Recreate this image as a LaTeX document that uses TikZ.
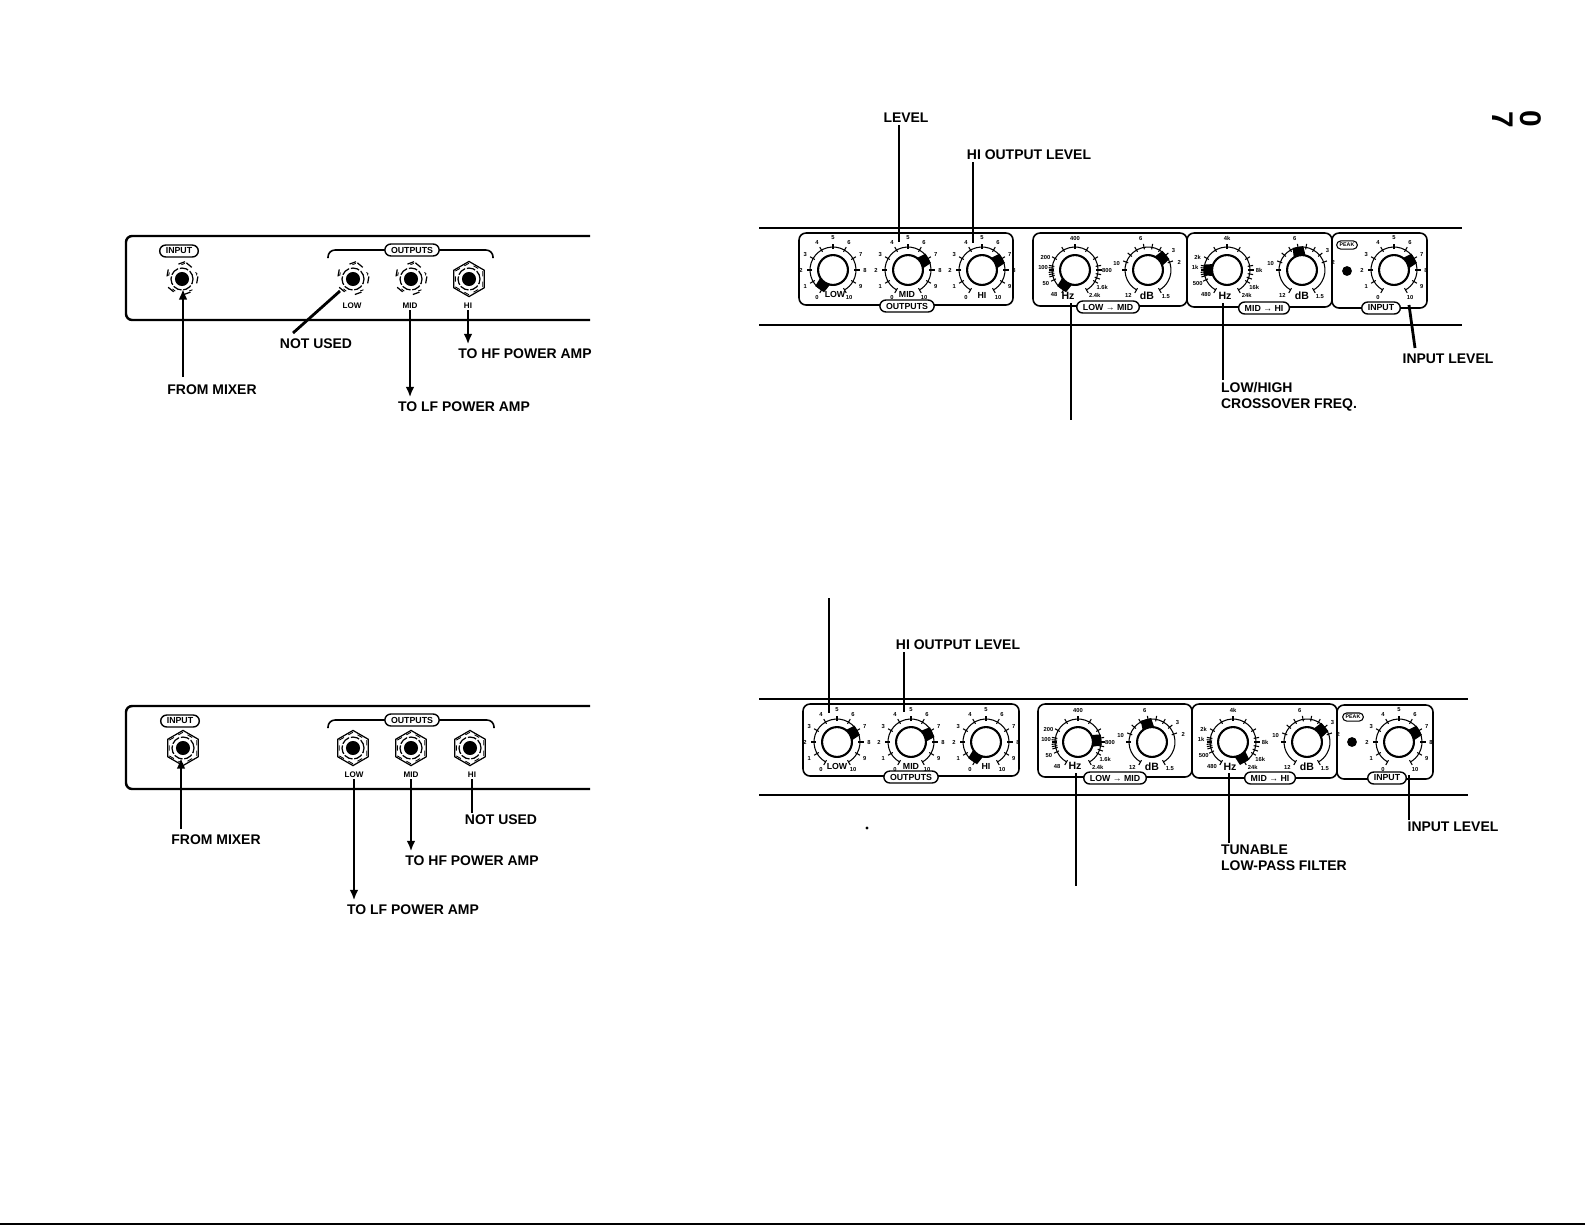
\documentclass[tikz,border=0pt]{standalone}
\usepackage{fontspec}
\setmainfont{Liberation Sans}
\usetikzlibrary{positioning, arrows.meta, shapes.geometric, shapes.misc}
\tikzset{
  rail/.style={line width=1.4pt},
  boxline/.style={line width=0.9pt, rounded corners=4pt},
  signal/.style={line width=1.6pt, -{Latex[length=6pt,width=5pt]}, shorten >=1.5pt},
  leader/.style={line width=1.6pt},
  caption/.style={font=\bfseries\fontsize{7.95}{9.1}\selectfont, inner sep=1pt, align=left},
  pill/.style={rounded rectangle, draw, fill=white, line width=0.8pt, inner xsep=3pt, inner ysep=0pt,
    minimum height=6.8pt, font=\bfseries\fontsize{5}{5}\selectfont},
  smallpill/.style={rounded rectangle, draw, line width=0.6pt, inner xsep=1.5pt, inner ysep=0pt,
    minimum height=4.6pt, font=\bfseries\fontsize{3}{3}\selectfont},
  jacklabel/.style={font=\bfseries\fontsize{4.6}{5}\selectfont, inner sep=0.5pt},
  knoblabel/.style={font=\bfseries\fontsize{5}{5}\selectfont, inner sep=0.5pt},
  unitlabel/.style={font=\bfseries\fontsize{6}{6}\selectfont, inner sep=0.5pt},
  scalemark/.style={font=\bfseries\fontsize{3.3}{3.3}\selectfont, inner sep=0pt},
  knobcap/.style={circle, draw, fill=white, line width=1.2pt, minimum size=17pt, inner sep=0pt},
  jackhole/.style={circle, fill=black, minimum size=8pt, inner sep=0pt},
  jackring/.style={circle, draw, line width=0.7pt, dash pattern=on 5pt off 1pt, minimum size=12.5pt, inner sep=0pt},
  hexfull/.style={regular polygon, regular polygon sides=6, regular polygon rotate=30, draw, line width=0.7pt, minimum size=20pt, inner sep=0pt},
  hexbroken/.style={hexfull, regular polygon rotate=20, dash pattern=on 4pt off 7pt},
  hexinner/.style={regular polygon, regular polygon sides=6, regular polygon rotate=30, draw, line width=0.5pt, dash pattern=on 3pt off 3pt, minimum size=18pt, inner sep=0pt},
  hexinnerbroken/.style={hexinner, regular polygon rotate=20, dash pattern=on 2pt off 9pt},
  led/.style={circle, fill=black, minimum size=5.6pt, inner sep=0pt},
}
% scale lists: angle/text
\def\lvlscale{240/0,210/1,180/2,150/3,120/4,90/5,60/6,30/7,0/8,-30/9,-60/10}
\def\lvlticks{240,210,...,-60}
\def\hzlowscale{229/48,204/50,176/100,157/200,90/400,0/800,-32/1.6k,-52/2.4k}
\def\hzhighscale{229/480,204/500,176/1k,157/2k,90/4k,0/8k,-32/16k,-52/24k}
\def\hzticks{240,205,195,190,185,180,175,170,150,120,90,60,30,10,0,-10,-20,-30,-60}
\def\dbscale{232/12,168/10,103/6,37/3,13/2,-56/1.5}
\def\dbticks{240,180,160,140,120,100,80,60,40,20,-60}
% name, position, pointer angle, scale, ticks
\newcommand{\knob}[5]{%
  \begin{scope}[shift={(#2)}, y=0.02cm]
    \draw[line width=0.6pt] (240:23) arc[start angle=240, end angle=-60, radius=23];
    \foreach \a in #5 { \draw[line width=0.6pt] (\a:21) -- (\a:26.5); }
    \foreach \a/\t in #4 { \node[scalemark] at (\a:32) {\t}; }
    \fill (#3-28:13) -- (#3-13:24) -- (#3+13:24) -- (#3+28:13) -- cycle;
    \node[knobcap] (#1) at (0,0) {};
  \end{scope}
}
\newcommand{\jack}[4]{%
  \node[#3] (#1hex) at (#2) {};
  \node[#4] (#1nut) at (#2) {};
  \node[jackring] (#1ring) at (#2) {};
  \node[jackhole] (#1) at (#2) {};
}
\begin{document}
\begin{tikzpicture}[x=0.02cm, y=-0.02cm]
  \useasboundingbox (0,0) rectangle (1585,1225);
  \coordinate (edgeL) at (0,1224);
  \coordinate (edgeR) at (1585,1224);
  \draw[line width=1.3pt] (edgeL) -- (edgeR);
  \node[rotate=-90, font=\bfseries\fontsize{17}{17}\selectfont, inner sep=0pt] (pageA) at (1503,120) {7};
  \node[rotate=-90, font=\bfseries\fontsize{17}{17}\selectfont, inner sep=0pt] (pageB) at (1531,119) {0};

  % upper left panel
  \begin{scope}
    \draw[rail, rounded corners=3.5pt] (590,236) -- (126,236) -- (126,320) -- (590,320);
    \draw[line width=0.9pt, rounded corners=4pt] (328,258) -- (328,250) -- (493,250) -- (493,258);
    \node[pill] (inpillA) at (179,251) {INPUT};
    \node[pill] (outpillA) at (412,250) {OUTPUTS};
    \jack{injackA}{182,279}{hexbroken}{hexinnerbroken}
    \jack{lowjackA}{353,279}{hexbroken}{hexinnerbroken}
    \jack{midjackA}{411,279}{hexbroken}{hexinnerbroken}
    \jack{hijackA}{469,279}{hexfull}{hexinner}
    \node[jacklabel] (lowlblA) at (352,306) {LOW};
    \node[jacklabel] (midlblA) at (410,306) {MID};
    \node[jacklabel] (hilblA) at (468,306) {HI};
    \node[caption] (mixerA) at (212,390) {FROM MIXER};
    \node[caption] (unusedA) at (316,344) {NOT USED};
    \node[caption] (lfA) at (464,407) {TO LF POWER AMP};
    \node[caption] (hfA) at (525,354) {TO HF POWER AMP};
    \coordinate (unusedendA) at (293,333);
    \coordinate (lowtipA) at (340,291);
    \coordinate (mixerstartA) at (183,377);
    \draw[signal] (mixerstartA) -- (mixerstartA |- injackA.south);
    \draw[leader] (unusedendA) -- (lowtipA);
    \draw[signal] (midlblA.south) -- (midlblA.south |- lfA.north);
    \draw[signal] (hilblA.south) -- (hilblA.south |- hfA.north);
  \end{scope}

  % lower left panel
  \begin{scope}
    \draw[rail, rounded corners=3.5pt] (590,706) -- (126,706) -- (126,789) -- (590,789);
    \draw[line width=0.9pt, rounded corners=4pt] (328,728) -- (328,720) -- (494,720) -- (494,728);
    \node[pill] (inpillD) at (180,721) {INPUT};
    \node[pill] (outpillD) at (412,720) {OUTPUTS};
    \jack{injackD}{183,748}{hexfull}{hexinner}
    \jack{lowjackD}{353,748}{hexfull}{hexinner}
    \jack{midjackD}{411,748}{hexfull}{hexinner}
    \jack{hijackD}{470,748}{hexfull}{hexinner}
    \node[jacklabel] (lowlblD) at (354,775) {LOW};
    \node[jacklabel] (midlblD) at (411,775) {MID};
    \node[jacklabel] (hilblD) at (472,775) {HI};
    \node[caption] (mixerD) at (216,840) {FROM MIXER};
    \node[caption] (unusedD) at (501,820) {NOT USED};
    \node[caption] (lfD) at (413,910) {TO LF POWER AMP};
    \node[caption] (hfD) at (472,861) {TO HF POWER AMP};
    \coordinate (mixerstartD) at (181,829);
    \draw[signal] (mixerstartD) -- (mixerstartD |- injackD.south);
    \draw[signal] (lowlblD.south) -- (lowlblD.south |- lfD.north);
    \draw[signal] (midlblD.south) -- (midlblD.south |- hfD.north);
    \draw[leader] (hilblD.south) -- (hilblD.south |- unusedD.north);
  \end{scope}

  % upper right panel
  \begin{scope}
    \coordinate (railBa) at (759,228);
    \coordinate (railBb) at (1462,228);
    \coordinate (railBc) at (759,325);
    \coordinate (railBd) at (1462,325);
    \draw[rail] (railBa) -- (railBb);
    \draw[rail] (railBc) -- (railBd);
    \draw[boxline] (799,233) rectangle (1013,305);
    \draw[boxline] (1033,233) rectangle (1187,306);
    \draw[boxline] (1187,233) rectangle (1332,307);
    \draw[boxline] (1332,233) rectangle (1427,308);
    \knob{lowknobB}{833,270}{235}{\lvlscale}{\lvlticks}
    \knob{midknobB}{908,270}{30}{\lvlscale}{\lvlticks}
    \knob{hiknobB}{982,270}{30}{\lvlscale}{\lvlticks}
    \knob{hzlowB}{1075,270}{235}{\hzlowscale}{\hzticks}
    \knob{dblowB}{1148,270}{40}{\dbscale}{\dbticks}
    \knob{hzhighB}{1227,270}{180}{\hzhighscale}{\hzticks}
    \knob{dbhighB}{1302,270}{100}{\dbscale}{\dbticks}
    \knob{inknobB}{1394,270}{30}{\lvlscale}{\lvlticks}
    \node[knoblabel] (lowtxtB) at (835,294) {LOW};
    \node[knoblabel] (midtxtB) at (907,294) {MID};
    \node[knoblabel] (hitxtB) at (982,295) {HI};
    \node[unitlabel] (hzaB) at (1068,296) {Hz};
    \node[unitlabel] (dbaB) at (1147,296) {dB};
    \node[unitlabel] (hzbB) at (1225,296) {Hz};
    \node[unitlabel] (dbbB) at (1302,296) {dB};
    \node[pill] (outpillB) at (907,306) {OUTPUTS};
    \node[pill] (lowmidB) at (1108,307) {LOW → MID};
    \node[pill] (midhiB) at (1264,308) {MID → HI};
    \node[pill] (inpillB) at (1381,308) {INPUT};
    \node[smallpill] (peakB) at (1347,245) {PEAK};
    \node[led] (ledB) at (1347,271) {};
    \node[caption] (levelB) at (906,118) {LEVEL};
    \node[caption] (hilevelB) at (1029,155) {HI OUTPUT LEVEL};
    \node[caption, anchor=north west] (freqB) at (1219,380) {LOW/HIGH\\CROSSOVER FREQ.};
    \node[caption] (inlevelB) at (1448,359) {INPUT LEVEL};
    \coordinate (levelendB) at (899,242);
    \coordinate (hilevelendB) at (973,243);
    \coordinate (lowmidtopB) at (1071,303);
    \coordinate (lowmidendB) at (1071,420);
    \coordinate (freqtopB) at (1223,303);
    \coordinate (intopB) at (1409,305);
    \coordinate (inendB) at (1415,348);
    \draw[leader] (levelB.south -| levelendB) -- (levelendB);
    \draw[leader] (hilevelB.south -| hilevelendB) -- (hilevelendB);
    \draw[leader] (lowmidtopB) -- (lowmidendB);
    \draw[leader] (freqtopB) -- (freqtopB |- freqB.north);
    \draw[leader] (intopB) -- (inendB);
  \end{scope}

  % lower right panel
  \begin{scope}
    \coordinate (railCa) at (759,699);
    \coordinate (railCb) at (1468,699);
    \coordinate (railCc) at (759,795);
    \coordinate (railCd) at (1468,795);
    \draw[rail] (railCa) -- (railCb);
    \draw[rail] (railCc) -- (railCd);
    \draw[boxline] (803,704) rectangle (1019,776);
    \draw[boxline] (1038,704) rectangle (1192,777);
    \draw[boxline] (1192,704) rectangle (1337,778);
    \draw[boxline] (1337,705) rectangle (1433,779);
    \knob{lowknobC}{837,742}{30}{\lvlscale}{\lvlticks}
    \knob{midknobC}{911,742}{25}{\lvlscale}{\lvlticks}
    \knob{hiknobC}{986,742}{235}{\lvlscale}{\lvlticks}
    \knob{hzlowC}{1078,742}{5}{\hzlowscale}{\hzticks}
    \knob{dblowC}{1152,742}{105}{\dbscale}{\dbticks}
    \knob{hzhighC}{1233,742}{300}{\hzhighscale}{\hzticks}
    \knob{dbhighC}{1307,742}{40}{\dbscale}{\dbticks}
    \knob{inknobC}{1399,742}{30}{\lvlscale}{\lvlticks}
    \node[knoblabel] (lowtxtC) at (837,766) {LOW};
    \node[knoblabel] (midtxtC) at (911,766) {MID};
    \node[knoblabel] (hitxtC) at (986,766) {HI};
    \node[unitlabel] (hzaC) at (1075,766) {Hz};
    \node[unitlabel] (dbaC) at (1152,767) {dB};
    \node[unitlabel] (hzbC) at (1230,767) {Hz};
    \node[unitlabel] (dbbC) at (1307,767) {dB};
    \node[pill] (outpillC) at (911,777) {OUTPUTS};
    \node[pill] (lowmidC) at (1115,778) {LOW → MID};
    \node[pill] (midhiC) at (1270,778) {MID → HI};
    \node[pill] (inpillC) at (1387,778) {INPUT};
    \node[smallpill] (peakC) at (1353,717) {PEAK};
    \node[led] (ledC) at (1352,742) {};
    \node[caption] (hilevelC) at (958,645) {HI OUTPUT LEVEL};
    \node[caption, anchor=north west] (filterC) at (1219,843) {TUNABLE\\LOW-PASS FILTER};
    \node[caption] (inlevelC) at (1453,827) {INPUT LEVEL};
    \coordinate (lowstartC) at (829,598);
    \coordinate (lowendC) at (829,713);
    \coordinate (hilevelendC) at (904,712);
    \coordinate (lowmidtopC) at (1076,773);
    \coordinate (lowmidendC) at (1076,886);
    \coordinate (filtertopC) at (1229,773);
    \coordinate (intopC) at (1409,775);
    \coordinate (stray) at (867,828);
    \draw[leader] (lowstartC) -- (lowendC);
    \draw[leader] (hilevelC.south -| hilevelendC) -- (hilevelendC);
    \draw[leader] (lowmidtopC) -- (lowmidendC);
    \draw[leader] (filtertopC) -- (filtertopC |- filterC.north);
    \draw[leader] (intopC) -- (intopC |- inlevelC.north);
    \fill (stray) circle[radius=1.6];
  \end{scope}
\end{tikzpicture}
\end{document}
